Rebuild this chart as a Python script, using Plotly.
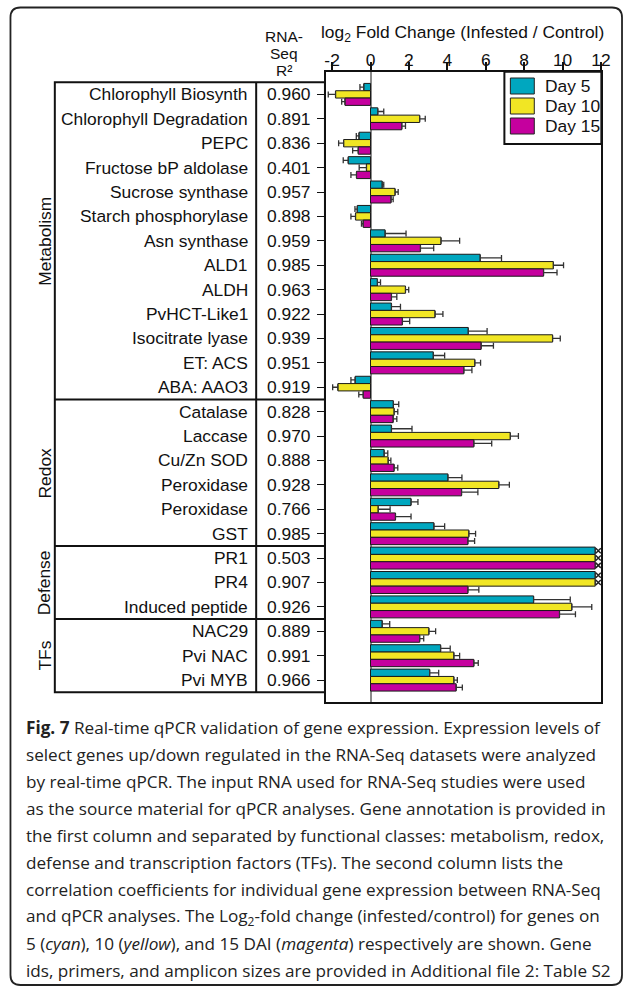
import plotly.graph_objects as go

# Target picture size; the page is laid out 8 px wider than the picture it gives,
# so the figure is made that much wider and positions are given as fractions of it.
W, H = 627, 987
FIG_W = 635

# ---------------- data ----------------
genes = [
    "Chlorophyll Biosynth", "Chlorophyll Degradation", "PEPC", "Fructose bP aldolase",
    "Sucrose synthase", "Starch phosphorylase", "Asn synthase", "ALD1", "ALDH",
    "PvHCT-Like1", "Isocitrate lyase", "ET: ACS", "ABA: AAO3",
    "Catalase", "Laccase", "Cu/Zn SOD", "Peroxidase", "Peroxidase", "GST",
    "PR1", "PR4", "Induced peptide",
    "NAC29", "Pvi NAC", "Pvi MYB",
]
r2_values = [
    "0.960", "0.891", "0.836", "0.401", "0.957", "0.898", "0.959", "0.985", "0.963",
    "0.922", "0.939", "0.951", "0.919",
    "0.828", "0.970", "0.888", "0.928", "0.766", "0.985",
    "0.503", "0.907", "0.926",
    "0.889", "0.991", "0.966",
]
group_names = ["Metabolism", "Redox", "Defense", "TFs"]
group_sizes = [13, 6, 3, 3]

series_names = ["Day 5", "Day 10", "Day 15"]
day5 = [-0.35, 0.38, -0.60, -1.16, 0.61, -0.69, 0.76, 5.71, 0.36, 1.09, 5.09, 3.27, -0.80,
        1.19, 1.09, 0.71, 4.03, 2.11, 3.30, 11.7, 11.7, 8.49, 0.61, 3.65, 3.08]
day10 = [-1.82, 2.56, -1.40, -0.21, 1.28, -0.78, 3.67, 9.52, 1.82, 3.36, 9.48, 5.43, -1.70,
         1.23, 7.28, 0.92, 6.68, 0.40, 5.12, 11.7, 11.7, 10.48, 3.04, 4.34, 4.34]
day15 = [-1.33, 1.63, -0.64, -0.73, 1.07, -0.38, 2.60, 9.01, 1.09, 1.66, 5.76, 4.86, -0.38,
         1.18, 5.38, 1.23, 4.74, 1.30, 5.07, 11.7, 5.07, 9.84, 2.56, 5.38, 4.46]
day5_err = [0.20, 0.31, 0.14, 0.26, 0.08, 0.12, 1.09, 1.11, 0.16, 0.47, 0.98, 0.59, 0.22,
            0.28, 1.07, 0.19, 0.73, 0.36, 0.56, None, None, 1.91, 0.39, 0.50, 0.47]
day10_err = [0.38, 0.29, 0.26, 0.38, 0.16, 0.24, 0.97, 0.53, 0.17, 0.41, 0.40, 0.30, 0.27,
             0.19, 0.42, 0.14, 0.55, 0.62, 0.35, None, None, 1.04, 0.35, 0.30, 0.18]
day15_err = [0.17, 0.19, 0.29, 0.29, 0.11, 0.09, 0.69, 0.70, 0.28, 0.38, 0.64, 0.42, 0.23,
             0.19, 0.93, 0.19, 0.85, 0.81, 0.35, None, 0.57, 0.83, 0.21, 0.23, 0.32]
# rows whose bar runs off the scale (marked with an x)
offscale_day5 = ["PR1", "PR4"]
offscale_day10 = ["PR1", "PR4"]
offscale_day15 = ["PR1"]

x_ticks = [-2, 0, 2, 4, 6, 8, 10, 12]

caption_lines = [
    "<b>Fig. 7</b> Real-time qPCR validation of gene expression. Expression levels of",
    "select genes up/down regulated in the RNA-Seq datasets were analyzed",
    "by real-time qPCR. The input RNA used for RNA-Seq studies were used",
    "as the source material for qPCR analyses. Gene annotation is provided in",
    "the first column and separated by functional classes: metabolism, redox,",
    "defense and transcription factors (TFs). The second column lists the",
    "correlation coefficients for individual gene expression between RNA-Seq",
    "and qPCR analyses. The Log<sub>2</sub>-fold change (infested/control) for genes on",
    "5 (<i>cyan</i>), 10 (<i>yellow</i>), and 15 DAI (<i>magenta</i>) respectively are shown. Gene",
    "ids, primers, and amplicon sizes are provided in Additional file 2: Table S2",
]

# ---------------- styling ----------------
colors = ["#00A7BF", "#F1E624", "#C5009E"]
FONT = "Liberation Sans, Arial, sans-serif"
CAP_FONT = "Open Sans, Noto Sans, sans-serif"
FS = 17.4


def px(x):
    return x / W


def py(y):
    return 1 - y / H


rows = list(range(len(genes)))
values = [day5, day10, day15]
errors = [day5_err, day10_err, day15_err]
offscale = [offscale_day5, offscale_day10, offscale_day15]

fig = go.Figure()
bar_w = 0.3
for k, (name, vals, errs, col) in enumerate(zip(series_names, values, errors, colors)):
    plus = [None if e is None else (e if v >= 0 else 0) for v, e in zip(vals, errs)]
    minus = [None if e is None else (0 if v >= 0 else e) for v, e in zip(vals, errs)]
    fig.add_trace(go.Bar(
        name=name, y=rows, x=vals, orientation="h",
        marker=dict(color=col, line=dict(color="#1a1a1a", width=1)),
        error_x=dict(type="data", symmetric=False, array=plus, arrayminus=minus,
                     color="#333333", thickness=1.3, width=3),
        showlegend=False,
    ))
# off-scale markers
for k, names in enumerate(offscale):
    ys = [genes.index(g) + (k - 1) * bar_w for g in names]
    fig.add_trace(go.Scatter(
        x=[11.86] * len(ys), y=ys, mode="markers",
        marker=dict(symbol="x-thin", size=5, line=dict(color="#222", width=1.5)),
        showlegend=False, hoverinfo="skip",
    ))

y_top, y_bot = -0.93, 24.885

fig.update_layout(
    width=FIG_W, height=H, autosize=False,
    margin=dict(l=0, r=0, t=0, b=0),
    paper_bgcolor="white", plot_bgcolor="white",
    barmode="group", bargap=0.1, bargroupgap=0,
    font=dict(family=FONT, size=FS, color="#111"),
    xaxis=dict(
        domain=[px(325.7), px(602.3)], range=[-2.335, 12.02], side="top",
        tickvals=x_ticks, ticktext=[str(t) for t in x_ticks],
        ticks="outside", ticklen=8, tickwidth=1.5, tickcolor="#111",
        ticklabelstandoff=-11,
        tickfont=dict(family=FONT, size=FS, color="#111"),
        showgrid=False, zeroline=True, zerolinecolor="#8a8a8a", zerolinewidth=1.5,
        showline=True, linecolor="#111", linewidth=1.5, mirror=True,
    ),
    yaxis=dict(
        domain=[py(701.7), py(71.7)], range=[y_bot, y_top],
        tickvals=rows, showticklabels=False,
        ticks="outside", ticklen=7, tickwidth=1.2, tickcolor="#111",
        showgrid=False, zeroline=False,
        showline=True, linecolor="#111", linewidth=1.5, mirror=True,
    ),
)

shapes = []
annotations = []

# outer rounded frame
L, T, R, B, r = 9.5, 7.5, 623, 985, 10
pts = [
    ("M", L, T + r), ("Q", L, T, L + r, T), ("L", R - r, T), ("Q", R, T, R, T + r),
    ("L", R, B - r), ("Q", R, B, R - r, B), ("L", L + r, B), ("Q", L, B, L, B - r),
]
path = ""
for p in pts:
    cmd = p[0]
    coords = p[1:]
    s = " ".join(f"{px(coords[i]):.5f},{py(coords[i + 1]):.5f}" for i in range(0, len(coords), 2))
    path += f"{cmd}{s} "
path += "Z"
shapes.append(dict(type="path", path=path, xref="paper", yref="paper",
                   line=dict(color="#222", width=1.8)))

# table
tbl_l, tbl_div, tbl_r = 54, 256, 325
shapes.append(dict(type="rect", xref="paper", yref="y", x0=px(tbl_l), x1=px(tbl_r),
                   y0=-0.5, y1=len(genes) - 0.5, line=dict(color="#111", width=2)))
shapes.append(dict(type="line", xref="paper", yref="y", x0=px(tbl_div), x1=px(tbl_div),
                   y0=-0.5, y1=len(genes) - 0.5, line=dict(color="#111", width=2)))
start = 0
for gname, gsize in zip(group_names, group_sizes):
    end = start + gsize
    if end < len(genes):
        shapes.append(dict(type="line", xref="paper", yref="y", x0=px(tbl_l), x1=px(tbl_r),
                           y0=end - 0.5, y1=end - 0.5, line=dict(color="#111", width=2)))
    annotations.append(dict(text=gname, xref="paper", yref="y", x=px(44),
                            y=(start + end - 1) / 2, textangle=-90, showarrow=False,
                            xanchor="center", yanchor="middle",
                            font=dict(family=FONT, size=FS, color="#111")))
    start = end

for i, (g, rv) in enumerate(zip(genes, r2_values)):
    annotations.append(dict(text=g, xref="paper", yref="y", x=px(250), y=i,
                            xanchor="right", yanchor="middle", showarrow=False,
                            font=dict(family=FONT, size=FS, color="#111")))
    annotations.append(dict(text=rv, xref="paper", yref="y", x=px(288.5), y=i,
                            xanchor="center", yanchor="middle", showarrow=False,
                            font=dict(family=FONT, size=FS, color="#111")))

# column header
for txt, yy in [("RNA-", 36.5), ("Seq", 53.5), ("R\u00b2", 70.5)]:
    annotations.append(dict(text=txt, xref="paper", yref="paper", x=px(284), y=py(yy),
                            xanchor="center", yanchor="middle", showarrow=False,
                            font=dict(family=FONT, size=15.5, color="#111")))

# axis title
annotations.append(dict(text="log<sub>2</sub> Fold Change (Infested / Control)",
                        xref="paper", yref="paper", x=px(463), y=py(34),
                        xanchor="center", yanchor="middle", showarrow=False,
                        font=dict(family=FONT, size=FS, color="#111")))

# legend
shapes.append(dict(type="rect", xref="paper", yref="paper", x0=px(505), x1=px(602.3),
                   y0=py(144), y1=py(71.7), line=dict(color="#111", width=2),
                   fillcolor="white"))
for k, (name, col) in enumerate(zip(series_names, colors)):
    yc = 86 + 20 * k
    shapes.append(dict(type="rect", xref="paper", yref="paper", x0=px(511), x1=px(535),
                       y0=py(yc + 8), y1=py(yc - 8), fillcolor=col,
                       line=dict(color="#222", width=1)))
    annotations.append(dict(text=name, xref="paper", yref="paper", x=px(544), y=py(yc),
                            xanchor="left", yanchor="middle", showarrow=False,
                            font=dict(family=FONT, size=FS, color="#111")))

# caption
for j, line in enumerate(caption_lines):
    annotations.append(dict(text=line, xref="paper", yref="paper", x=px(23),
                            y=py(727.5 + 27 * j), xanchor="left", yanchor="middle",
                            showarrow=False,
                            font=dict(family=CAP_FONT, size=17.15, color="#222")))

fig.update_layout(shapes=shapes, annotations=annotations)
# the page's default 8 px body margin would push the figure out of the window
fig.write_html("out.html", config={"displayModeBar": False},
               post_script="document.body.style.margin = '0px';")
